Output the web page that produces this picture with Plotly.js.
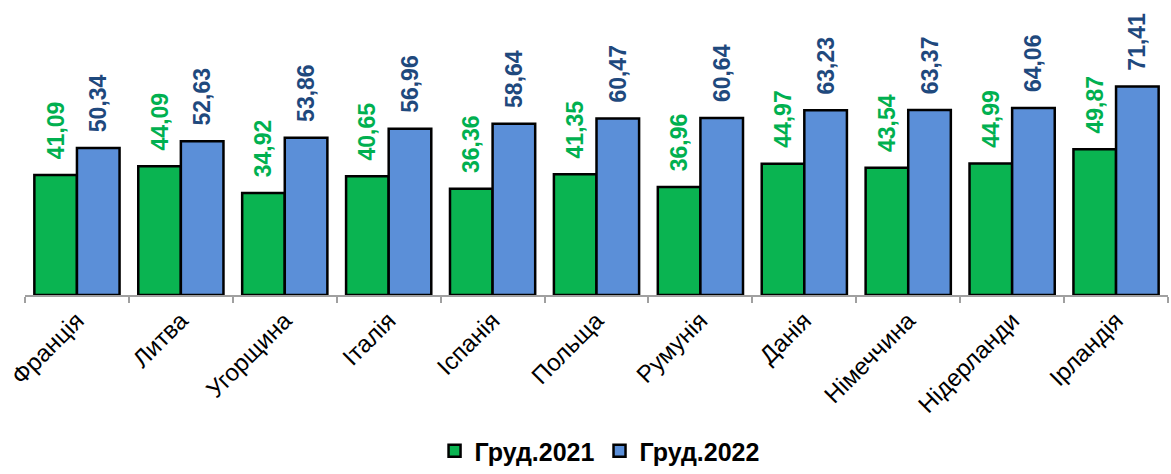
<!DOCTYPE html>
<html>
<head>
<meta charset="utf-8">
<script src="https://cdn.plot.ly/plotly-3.0.1.min.js"></script>
<style>html,body{margin:0;padding:0;background:#fff;}#chart{width:1171px;height:474px;}</style>
</head>
<body>
<div id="chart"></div>
<script>
const categories = ["Франція","Литва","Угорщина","Італія","Іспанія","Польща","Румунія","Данія","Німеччина","Нідерланди","Ірландія"];
const series2021 = [41.09,44.09,34.92,40.65,36.36,41.35,36.96,44.97,43.54,44.99,49.87];
const series2022 = [50.34,52.63,53.86,56.96,58.64,60.47,60.64,63.23,63.37,64.06,71.41];
const seriesNames = ["Груд.2021","Груд.2022"];

// leading no-break spaces give the rotated labels a little extra gap above the bar
const fmt = v => '\u00a0\u00a0' + v.toFixed(2).replace('.', ',');
const FONT = "Liberation Sans, Arial, sans-serif";

const traces = [
  {type:'bar', name:seriesNames[0], x:categories, y:series2021,
   text:series2021.map(fmt), textposition:'outside', textangle:-90, cliponaxis:false,
   textfont:{family:FONT, size:23, color:'#00B050', weight:'bold'},
   marker:{color:'#0AB451', line:{color:'#000', width:2.5}}},
  {type:'bar', name:seriesNames[1], x:categories, y:series2022,
   text:series2022.map(fmt), textposition:'outside', textangle:-90, cliponaxis:false,
   textfont:{family:FONT, size:23, color:'#1F497D', weight:'bold'},
   marker:{color:'#5B8FD8', line:{color:'#000', width:2.5}}}
];

const layout = {
  width:1171, height:474,
  margin:{l:25, r:3, t:0, b:179},
  paper_bgcolor:'#fff', plot_bgcolor:'#fff',
  barmode:'group', bargap:0.18, bargroupgap:0,
  uniformtext:{mode:'show', minsize:23},
  font:{family:FONT, color:'#000'},
  showlegend:true,
  legend:{orientation:'h', xref:'container', x:0.512, xanchor:'center', yref:'container', y:-0.012, yanchor:'bottom',
    font:{family:FONT, size:25, color:'#000', weight:'bold'}, traceorder:'normal'},
  xaxis:{showline:true, linecolor:'#A0A0A0', linewidth:2, ticks:'outside', tickson:'boundaries',
    ticklen:6, tickcolor:'#A0A0A0', tickwidth:2, tickangle:-45,
    tickfont:{family:FONT, size:24, color:'#000'}, showgrid:false, zeroline:false},
  yaxis:{range:[0,101], visible:false, showgrid:false, zeroline:false}
};

Plotly.newPlot('chart', traces, layout, {displayModeBar:false, staticPlot:true});
</script>
</body>
</html>
